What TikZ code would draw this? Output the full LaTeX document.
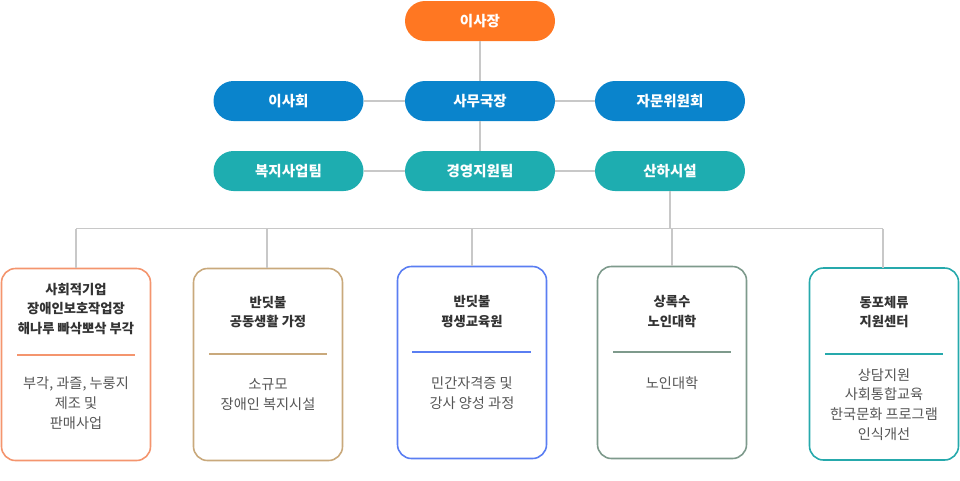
\documentclass[tikz,border=0pt]{standalone}
\usepackage{fontspec}
\setmainfont{Noto Sans CJK KR}
\definecolor{corange}{HTML}{FF7722}
\definecolor{cblue}{HTML}{0A84CC}
\definecolor{cteal}{HTML}{1EADB0}
\definecolor{cline}{HTML}{C8C8C8}
\definecolor{bA}{HTML}{F4956E}
\definecolor{bB}{HTML}{C9A97C}
\definecolor{bC}{HTML}{5A7EF2}
\definecolor{bD}{HTML}{7E9A8C}
\definecolor{bE}{HTML}{26A9AC}
\definecolor{ttl}{HTML}{333333}
\definecolor{bod}{HTML}{555555}
\tikzset{
  x=1pt,y=-1pt,
  pill/.style={rounded corners=20pt, minimum width=150pt, minimum height=40pt, inner sep=0pt, text=white, font=\fontsize{14.5}{16}\selectfont\bfseries},
  cbox/.style={draw, line width=1.6pt, rounded corners=14pt, minimum width=149pt, minimum height=192pt, inner sep=0pt},
  conn/.style={draw=cline, line width=1.3pt},
  sep/.style={line width=1.8pt},
  ttlt/.style={align=center, text=ttl, font=\fontsize{13.3}{19.5}\selectfont\bfseries},
  bodt/.style={align=center, text=bod, font=\fontsize{14.2}{19.8}\selectfont},
}
\begin{document}
\begin{tikzpicture}
\useasboundingbox (0,0) rectangle (960,480);
% pills
\node[pill, fill=corange] (ceo) at (480,21) {이사장};
\node[pill, fill=cblue] (board) at (288.5,101) {이사회};
\node[pill, fill=cblue] (sec) at (480,101) {사무국장};
\node[pill, fill=cblue] (adv) at (670,101) {자문위원회};
\node[pill, fill=cteal] (welf) at (288.5,171) {복지사업팀};
\node[pill, fill=cteal] (mgmt) at (480,171) {경영지원팀};
\node[pill, fill=cteal] (fac) at (670,171) {산하시설};
% boxes
\node[cbox, draw=bA] (b1) at (76,364.5) {};
\node[cbox, draw=bB] (b2) at (268,364.5) {};
\node[cbox, draw=bC] (b3) at (472,362.5) {};
\node[cbox, draw=bD] (b4) at (672,362.5) {};
\node[cbox, draw=bE] (b5) at (884,364) {};
% connectors
\coordinate (hl) at (76,228.5);
\coordinate (hr) at (883,228.5);
\coordinate (hm) at (670,228.5);
\draw[conn] (ceo.south) -- (sec.north);
\draw[conn] (sec.south) -- (mgmt.north);
\draw[conn] (board.east) -- (sec.west);
\draw[conn] (sec.east) -- (adv.west);
\draw[conn] (welf.east) -- (mgmt.west);
\draw[conn] (mgmt.east) -- (fac.west);
\draw[conn] (fac.south) -- (hm);
\draw[conn] (hl) -- (hr);
\draw[conn] (hl) -- (b1.north);
\draw[conn] (267,228.5) -- (267,268);
\draw[conn] (472,228.5) -- (b3.north);
\draw[conn] (672,228.5) -- (b4.north);
\draw[conn] (hr) -- (883,268);
% box contents
\node[ttlt] (t1) at (76,309) {사회적기업\\장애인보호작업장\\해나루 빠삭뽀삭 부각};
\draw[bA, sep] (17,355) -- (135,355);
\node[bodt] (d1) at (76,403) {부각, 과즐, 누룽지\\제조 및\\판매사업};

\node[ttlt] (t2) at (268,312) {반딧불\\공동생활 가정};
\draw[bB, sep] (209,354) -- (327,354);
\node[bodt] (d2) at (268,394.5) {소규모\\장애인 복지시설};

\node[ttlt] (t3) at (472,311.5) {반딧불\\평생교육원};
\draw[bC, sep] (412,352) -- (531,352);
\node[bodt] (d3) at (472,393) {민간자격증 및\\강사 양성 과정};

\node[ttlt] (t4) at (672,311.5) {상록수\\노인대학};
\draw[bD, sep] (613,352) -- (731,352);
\node[bodt] (d4) at (672,383) {노인대학};

\node[ttlt] (t5) at (884,312) {동포체류\\지원센터};
\draw[bE, sep] (825,354) -- (943,354);
\node[bodt] (d5) at (884,404.5) {상담지원\\사회통합교육\\한국문화 프로그램\\인식개선};
\end{tikzpicture}
\end{document}
